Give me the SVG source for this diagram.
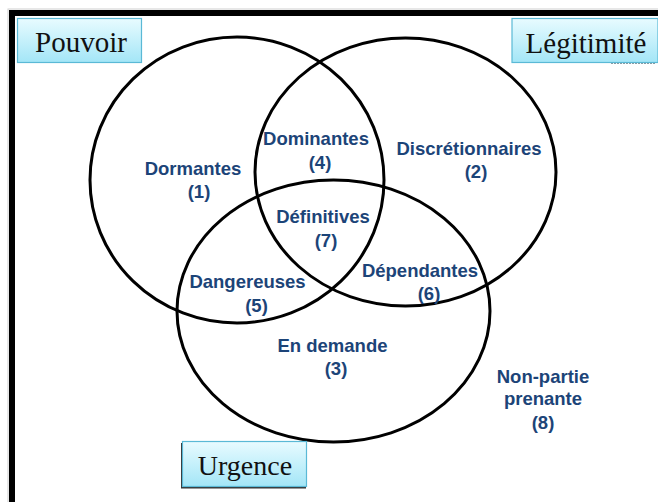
<svg xmlns="http://www.w3.org/2000/svg" width="658" height="502" viewBox="0 0 658 502">
<defs>
<linearGradient id="boxg" x1="0" y1="0" x2="0" y2="1">
<stop offset="0" stop-color="#e8fbff"/>
<stop offset="1" stop-color="#a3e6f7"/>
</linearGradient>
<style>
.ring{fill:none;stroke:#000;stroke-width:3}
.box{fill:url(#boxg);stroke:#5ab9d6;stroke-width:1.2}
.title{font-family:"Liberation Serif","Times New Roman",serif;font-size:29px;fill:#111;text-anchor:middle}
.lbl{font-family:"Liberation Sans",Arial,sans-serif;font-weight:bold;font-size:18.5px;fill:#1c4478;text-anchor:middle}
</style>
</defs>
<rect width="658" height="502" fill="#fff"/>
<g id="frame">
<rect x="8" y="9" width="652" height="500" fill="none" stroke="#d0d0d0" stroke-width="1"/>
<path d="M12 505 V13 H662" fill="none" stroke="#000" stroke-width="6"/>
</g>
<g id="connectors">
<ellipse id="c-pouvoir" class="ring" cx="237" cy="180" rx="147" ry="143"/>
<ellipse id="c-legitimite" class="ring" cx="405.5" cy="172" rx="150.5" ry="134"/>
<ellipse id="c-urgence" class="ring" cx="333.5" cy="311" rx="156.5" ry="131"/>
</g>
<g id="pouvoir">
<rect class="box" x="17.5" y="18.5" width="124" height="44"/>
<text class="title" x="81" y="52">Pouvoir</text>
</g>
<g id="legitimite">
<line x1="611" y1="63.5" x2="656" y2="63.5" stroke="#8a9aa0" stroke-width="1" stroke-dasharray="2 1"/>
<rect class="box" x="512" y="18.5" width="146" height="44"/>
<text class="title" x="586" y="52.5">Légitimité</text>
</g>
<g id="urgence">
<rect x="181" y="443" width="125" height="45.5" fill="#333"/>
<rect class="box" x="182.5" y="441.5" width="124" height="45"/>
<text class="title" x="245" y="475" style="font-size:28px">Urgence</text>
</g>
<g id="n1"><text class="lbl" x="193" y="175">Dormantes</text><text class="lbl" x="199" y="198">(1)</text></g>
<g id="n2"><text class="lbl" x="469" y="155">Discrétionnaires</text><text class="lbl" x="476" y="178">(2)</text></g>
<g id="n4"><text class="lbl" x="316" y="145">Dominantes</text><text class="lbl" x="320" y="168.5">(4)</text></g>
<g id="n7"><text class="lbl" x="323" y="223">Définitives</text><text class="lbl" x="326" y="246.5">(7)</text></g>
<g id="n5"><text class="lbl" x="247.5" y="288">Dangereuses</text><text class="lbl" x="256.5" y="312">(5)</text></g>
<g id="n6"><text class="lbl" x="420" y="277">Dépendantes</text><text class="lbl" x="429" y="300">(6)</text></g>
<g id="n3"><text class="lbl" x="332.5" y="352">En demande</text><text class="lbl" x="336" y="375">(3)</text></g>
<g id="n8"><text class="lbl" x="543" y="383">Non-partie</text><text class="lbl" x="543" y="405">prenante</text><text class="lbl" x="543" y="429">(8)</text></g>
</svg>
